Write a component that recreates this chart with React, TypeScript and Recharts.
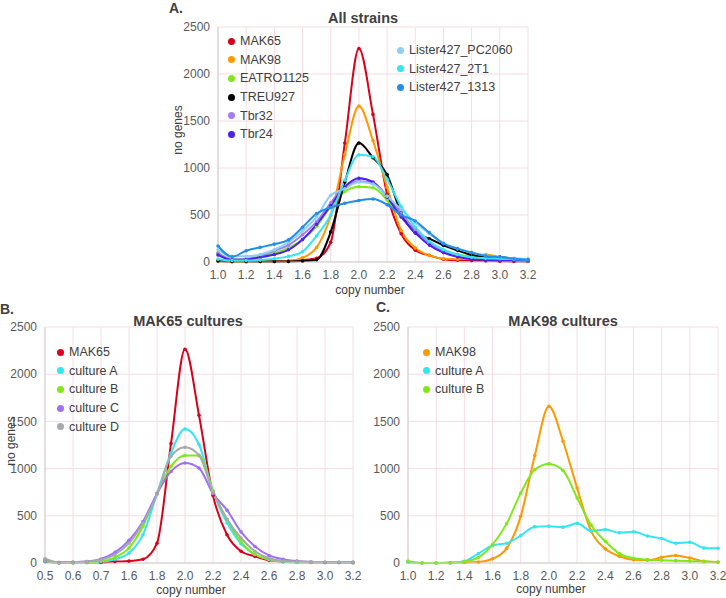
import { LineChart, Line, XAxis, YAxis, CartesianGrid } from 'recharts';

// x categories (copy number)
const CATS = ['1.0', '1.1', '1.2', '1.3', '1.4', '1.5', '1.6', '1.7', '1.8', '1.9', '2.0', '2.1', '2.2', '2.3', '2.4', '2.5', '2.6', '2.7', '2.8', '2.9', '3.0', '3.1', '3.2'];
const TICKS = ['1.0', '1.2', '1.4', '1.6', '1.8', '2.0', '2.2', '2.4', '2.6', '2.8', '3.0', '3.2'];
const CATS_B = ['0.5', '0.55', '0.6', '0.65', '0.7', '1.5', '1.6', '1.7', '1.8', '1.9', '2.0', '2.1', '2.2', '2.3', '2.4', '2.5', '2.6', '2.7', '2.8', '2.9', '3.0', '3.1', '3.2'];
const TICKS_B = ['0.5', '0.6', '0.7', '1.6', '1.8', '2.0', '2.2', '2.4', '2.6', '2.8', '3.0', '3.2'];
const Y_TICKS = [0, 500, 1000, 1500, 2000, 2500];

// A. All strains
const MAK65 = [15, 5, 5, 5, 5, 10, 20, 40, 210, 1265, 2270, 1570, 720, 300, 125, 70, 30, 18, 15, 12, 8, 5, 5];
const MAK98 = [10, 0, 0, 5, 5, 10, 45, 155, 494, 1140, 1660, 1290, 795, 335, 150, 70, 35, 30, 60, 80, 53, 18, 7];
const EATRO1125 = [100, 30, 35, 60, 95, 150, 240, 380, 590, 750, 800, 790, 660, 480, 320, 200, 120, 80, 60, 50, 40, 30, 25];
const TREU927 = [10, 5, 5, 5, 5, 5, 10, 25, 320, 850, 1265, 1110, 930, 520, 310, 248, 177, 124, 75, 55, 53, 35, 25];
const TBR32 = [90, 30, 30, 60, 120, 180, 290, 430, 630, 800, 860, 840, 700, 520, 340, 210, 120, 70, 45, 30, 25, 20, 15];
const TBR24 = [75, 20, 25, 50, 80, 130, 240, 400, 600, 800, 890, 850, 690, 480, 310, 180, 100, 55, 30, 25, 15, 10, 10];
const PC2060 = [130, 60, 60, 80, 130, 210, 330, 480, 710, 780, 850, 830, 700, 560, 420, 300, 200, 140, 100, 70, 50, 40, 30];
const T2T1 = [30, 15, 15, 20, 35, 60, 110, 280, 500, 870, 1140, 1120, 880, 590, 370, 220, 130, 80, 50, 40, 35, 30, 25];
const L1313 = [170, 55, 120, 156, 190, 235, 370, 515, 580, 625, 655, 670, 610, 500, 436, 312, 195, 142, 100, 65, 53, 35, 25];

// B. MAK65 cultures
const B_MAK65 = [15, 5, 5, 5, 5, 15, 20, 40, 210, 1265, 2265, 1565, 715, 300, 125, 70, 28, 15, 10, 8, 5, 5, 5];
const B_CULT_A = [20, 0, 0, 5, 15, 40, 105, 300, 735, 1165, 1420, 1255, 760, 425, 205, 90, 35, 15, 5, 5, 5, 5, 5];
const B_CULT_B = [30, 0, 0, 5, 20, 60, 160, 390, 735, 1025, 1140, 1140, 765, 460, 225, 90, 40, 20, 10, 5, 5, 5, 0];
const B_CULT_C = [38, 3, 8, 15, 42, 113, 240, 440, 735, 970, 1060, 1005, 735, 560, 330, 175, 80, 40, 20, 10, 5, 5, 5];
const B_CULT_D = [45, 5, 10, 15, 35, 90, 210, 425, 725, 1130, 1225, 1140, 750, 465, 265, 125, 50, 20, 15, 12, 10, 10, 10];

// C. MAK98 cultures
const C_MAK98 = [10, 0, 0, 5, 5, 10, 45, 155, 494, 1140, 1660, 1290, 795, 335, 150, 70, 35, 30, 60, 80, 53, 18, 7];
const C_CULT_A = [10, 0, 0, 0, 18, 100, 185, 210, 290, 385, 390, 380, 420, 340, 355, 320, 330, 285, 260, 210, 220, 160, 155];
const C_CULT_B = [20, 0, 0, 0, 15, 60, 195, 417, 740, 990, 1050, 980, 690, 400, 230, 100, 50, 35, 30, 25, 20, 15, 10];

type Series = { name: string; color: string; values: number[] };

const SERIES_A: Series[] = [
  { name: 'MAK65', color: '#d9001b', values: MAK65 },
  { name: 'MAK98', color: '#ff9900', values: MAK98 },
  { name: 'EATRO1125', color: '#7ee81a', values: EATRO1125 },
  { name: 'TREU927', color: '#000000', values: TREU927 },
  { name: 'Tbr32', color: '#a87cf2', values: TBR32 },
  { name: 'Tbr24', color: '#4a1ff0', values: TBR24 },
  { name: 'Lister427_PC2060', color: '#8ecff5', values: PC2060 },
  { name: 'Lister427_2T1', color: '#33e6f2', values: T2T1 },
  { name: 'Lister427_1313', color: '#1f8fe8', values: L1313 }
];
const SERIES_B: Series[] = [
  { name: 'MAK65', color: '#d9001b', values: B_MAK65 },
  { name: 'culture A', color: '#33e6f2', values: B_CULT_A },
  { name: 'culture B', color: '#80e81a', values: B_CULT_B },
  { name: 'culture C', color: '#a070f0', values: B_CULT_C },
  { name: 'culture D', color: '#a6aaad', values: B_CULT_D }
];
const SERIES_C: Series[] = [
  { name: 'MAK98', color: '#ff9900', values: C_MAK98 },
  { name: 'culture A', color: '#33e6f2', values: C_CULT_A },
  { name: 'culture B', color: '#80e81a', values: C_CULT_B }
];

const FONT = '"Liberation Sans", Arial, sans-serif';
const TEXT = '#404040';
const GRID = '#f6dce2';
const AXIS = '#cfcfcf';

function rows(cats: string[], series: Series[]) {
  return cats.map((x, i) => {
    const r: Record<string, string | number> = { x };
    series.forEach((s) => (r[s.name] = s.values[i]));
    return r;
  });
}

function Panel({ left, top, width, height, margin, cats, ticks, series }: {
  left: number; top: number; width: number; height: number;
  margin: { top: number; right: number; bottom: number; left: number };
  cats: string[]; ticks: string[]; series: Series[];
}) {
  return (
    <div style={{ position: 'absolute', left, top }}>
      <LineChart width={width} height={height} data={rows(cats, series)} margin={margin} style={{ overflow: 'visible' }}>
        <CartesianGrid stroke={GRID} strokeWidth={1} />
        <XAxis dataKey="x" ticks={ticks} interval={0} tickLine={false} stroke={AXIS} height={30}
          tick={{ fontSize: 12, fill: '#595959', fontFamily: FONT }} />
        <YAxis domain={[0, 2500]} ticks={Y_TICKS} tickLine={false} stroke={AXIS} width={40}
          tick={{ fontSize: 12, fill: '#595959', fontFamily: FONT }} />
        {series.map((s) => (
          <Line key={s.name} dataKey={s.name} type="monotone" stroke={s.color} strokeWidth={2}
            dot={{ r: 1.8, fill: s.color, stroke: 'none' }} isAnimationActive={false} />
        ))}
      </LineChart>
    </div>
  );
}

function LegendList({ left, top, items }: { left: number; top: number; items: Series[] }) {
  return (
    <div style={{ position: 'absolute', left, top, fontFamily: FONT, fontSize: 12.5, color: TEXT }}>
      {items.map((s) => (
        <div key={s.name} style={{ display: 'flex', alignItems: 'center', height: 18.6 }}>
          <span style={{ width: 7, height: 7, borderRadius: '50%', background: s.color, marginRight: 5 }} />
          {s.name}
        </div>
      ))}
    </div>
  );
}

function Txt({ x, y, children, bold, size = 12, rotate }: {
  x: number; y: number; children: string; bold?: boolean; size?: number; rotate?: boolean;
}) {
  return (
    <div style={{
      position: 'absolute', left: x, top: y, transform: `translate(-50%, -50%)${rotate ? ' rotate(-90deg)' : ''}`,
      fontFamily: FONT, fontSize: size, fontWeight: bold ? 700 : 400, color: TEXT, whiteSpace: 'nowrap', zIndex: 2
    }}>{children}</div>
  );
}

export default function App() {
  return (
    <div style={{ position: 'relative', width: 726, height: 598, background: '#fff' }}>
      <style>{'body { margin: 0; }'}</style>
      <Panel left={0} top={0} width={560} height={300} margin={{ top: 27, right: 32, bottom: 8, left: 178 }}
        cats={CATS} ticks={TICKS} series={SERIES_A} />
      <Panel left={0} top={300} width={370} height={298} margin={{ top: 27, right: 17, bottom: 5, left: 5 }}
        cats={CATS_B} ticks={TICKS_B} series={SERIES_B} />
      <Panel left={360} top={300} width={366} height={298} margin={{ top: 27, right: 8, bottom: 5, left: 8 }}
        cats={CATS} ticks={TICKS} series={SERIES_C} />

      <LegendList left={228} top={32} items={SERIES_A.slice(0, 6)} />
      <LegendList left={397} top={41} items={SERIES_A.slice(6)} />
      <LegendList left={57} top={343} items={SERIES_B} />
      <LegendList left={423} top={343} items={SERIES_C} />

      <Txt x={176} y={8} bold size={14}>A.</Txt>
      <Txt x={7} y={309} bold size={14}>B.</Txt>
      <Txt x={383} y={307} bold size={14}>C.</Txt>
      <Txt x={363} y={18} bold size={14.5}>All strains</Txt>
      <Txt x={188} y={321} bold size={14.5}>MAK65 cultures</Txt>
      <Txt x={563} y={321} bold size={14.5}>MAK98 cultures</Txt>
      <Txt x={178} y={130} rotate>no genes</Txt>
      <Txt x={11} y={441} rotate>no genes</Txt>
      <Txt x={370} y={290}>copy number</Txt>
      <Txt x={191} y={590}>copy number</Txt>
      <Txt x={551} y={589}>copy number</Txt>
    </div>
  );
}
